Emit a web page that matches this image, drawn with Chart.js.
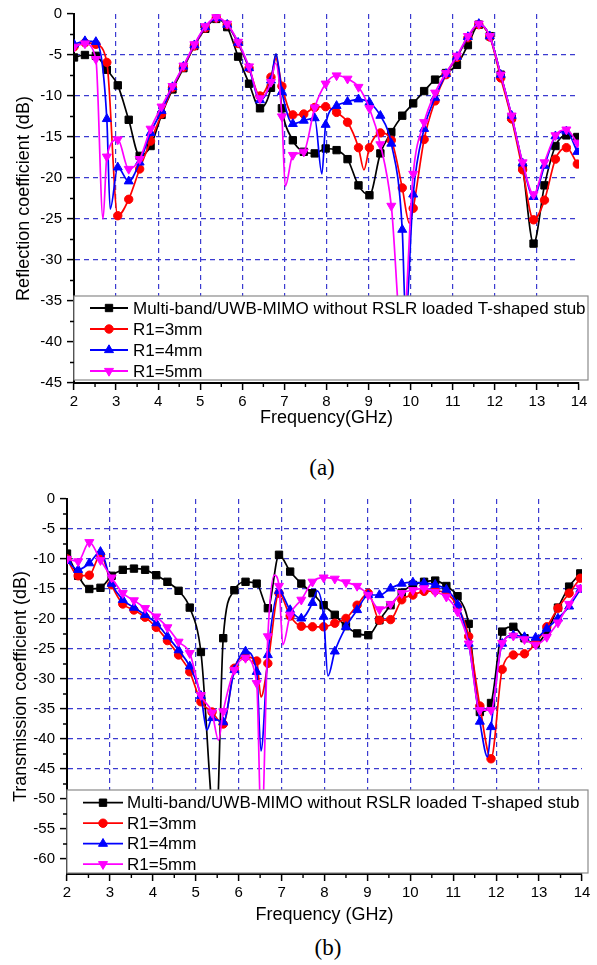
<!DOCTYPE html>
<html>
<head>
<meta charset="utf-8">
<script src="https://cdn.jsdelivr.net/npm/chart.js@4.4.1/dist/chart.umd.min.js"></script>
<style>
  html, body { margin: 0; padding: 0; background: #fff; }
  #wrap { position: relative; width: 597px; height: 965px; overflow: hidden; }
  canvas { position: absolute; left: 0; }
  #cA { top: 0; }
  #cB { top: 480px; }
  .cap { position: absolute; width: 100px; text-align: center; line-height: 1;
         font-family: "Liberation Serif", "Times New Roman", serif; font-size: 23px; color: #000; }
</style>
</head>
<body>
<div id="wrap">
  <canvas id="cA" width="597" height="440"></canvas>
  <div class="cap" style="left:272px; top:456px">(a)</div>
  <canvas id="cB" width="597" height="450"></canvas>
  <div class="cap" style="left:278px; top:936px">(b)</div>
</div>
<script>
const FONT = '"Liberation Sans", Arial, sans-serif';
const GRID = '#3b3bd0';

// marker positions (GHz), shared by every curve
const freq = [2.00, 2.26, 2.52, 2.78, 3.04, 3.30, 3.56, 3.82, 4.08, 4.34,
              4.60, 4.86, 5.12, 5.38, 5.64, 5.90, 6.16, 6.42, 6.68, 6.94,
              7.20, 7.46, 7.72, 7.98, 8.24, 8.50, 8.76, 9.02, 9.28, 9.54,
              9.80, 10.06, 10.32, 10.58, 10.84, 11.10, 11.36, 11.62, 11.88, 12.14,
              12.40, 12.66, 12.92, 13.18, 13.44, 13.70, 13.96];

const xTicks = [2, 3, 4, 5, 6, 7, 8, 9, 10, 11, 12, 13, 14];
const yTicksA = [0, -5, -10, -15, -20, -25, -30, -35, -40, -45];
const yTicksB = [0, -5, -10, -15, -20, -25, -30, -35, -40, -45, -50, -55, -60];

const seriesNames = ['Multi-band/UWB-MIMO without RSLR loaded T-shaped stub', 'R1=3mm', 'R1=4mm', 'R1=5mm'];

// (a) reflection coefficient, dB
const s11NoStub = [-5.3, -5.0, -5.1, -6.8, -8.7, -12.9, -17.3, -16.1, -12.3, -9.2,
                   -6.6, -3.9, -1.8, -0.6, -1.6, -5.2, -8.5, -11.5, -9.0, -11.5,
                   -15.4, -16.8, -17.0, -16.4, -16.6, -17.7, -20.9, -22.1, -17.0, -14.4,
                   -12.4, -10.9, -9.4, -8.0, -7.2, -6.2, -3.8, -1.3, -2.7, -7.4,
                   -12.6, -18.7, -28.0, -20.9, -16.1, -14.8, -15.0];
const s11R3 = [-4.0, -3.5, -3.7, -5.9, -24.6, -22.6, -18.9, -15.5, -12.2, -9.0,
               -6.5, -3.9, -1.7, -0.5, -1.3, -3.6, -6.6, -10.0, -7.7, -8.8,
               -12.3, -12.2, -11.4, -11.3, -12.0, -13.2, -16.3, -16.3, -14.5, -15.4,
               -21.2, -23.7, -15.3, -10.6, -7.4, -5.3, -2.9, -1.3, -2.8, -7.8,
               -12.8, -19.0, -25.1, -22.7, -17.7, -16.3, -18.3];
const s11R4 = [-3.7, -3.3, -3.4, -12.8, -18.7, -20.4, -18.1, -14.5, -11.8, -8.9,
               -6.4, -3.8, -1.6, -0.5, -1.3, -3.5, -6.6, -10.5, -8.1, -9.5,
               -13.4, -13.0, -12.7, -13.5, -11.2, -10.7, -10.4, -10.8, -12.4, -15.8,
               -26.3, -22.0, -14.0, -10.2, -7.3, -5.2, -2.8, -1.2, -2.7, -7.4,
               -12.4, -18.2, -22.3, -18.5, -14.9, -14.3, -16.8];
const s11R5 = [-4.0, -3.6, -5.5, -17.4, -15.3, -18.9, -17.7, -14.0, -11.3, -8.8,
               -6.3, -3.7, -1.5, -0.4, -1.2, -3.4, -6.4, -10.3, -8.3, -12.5,
               -17.2, -16.8, -11.4, -8.5, -7.5, -7.9, -8.9, -11.5, -15.9, -23.4,
               -40.0, -19.5, -13.2, -9.6, -7.2, -5.1, -2.7, -1.2, -2.7, -7.4,
               -12.4, -18.1, -22.0, -18.1, -14.8, -14.1, -15.7];
// sharp resonances that fall between markers: [GHz, dB]
const s11NoStubDips = [[6.80, -4.9]];
const s11R3Dips = [[6.80, -5.4], [8.89, -19.0], [9.97, -25.5]];
const s11R4Dips = [[2.86, -23.8], [6.80, -4.9], [7.89, -19.5], [9.88, -37.0]];
const s11R5Dips = [[2.69, -25.0], [6.79, -6.0], [7.02, -21.0]];

// (b) transmission coefficient, dB (null = marker not visible)
const s21NoStub = [-9.1, -12.8, -15.0, -14.8, -12.8, -11.8, -11.6, -11.8, -12.7, -13.8,
                   -15.3, -18.1, -25.5, null, -23.2, -15.2, -13.8, -14.1, -18.2, -9.3,
                   -12.1, -14.1, -15.7, -17.7, -19.3, -21.2, -22.4, -22.7, -20.2, -17.7,
                   -15.6, -14.3, -13.8, -13.6, -14.5, -16.2, -20.8, -35.5, -34.0, -22.1,
                   -21.3, -23.2, -24.1, -22.1, -18.1, -14.6, -12.4];
const s21R3 = [-10.0, -12.8, -12.7, -9.3, -14.3, -17.5, -18.5, -19.7, -21.4, -23.6,
               -26.0, -28.8, -33.8, -35.5, -37.5, -28.2, -26.3, -27.0, -27.4, -15.7,
               -19.5, -21.2, -21.3, -21.3, -20.7, -19.9, -17.7, -15.7, -20.2, -20.1,
               -16.8, -16.0, -15.4, -15.3, -15.7, -17.9, -22.9, -34.5, -43.3, -28.4,
               -26.0, -25.8, -24.0, -21.3, -18.2, -15.7, -13.2];
const s21R4 = [-10.3, -11.8, -10.7, -8.8, -14.1, -16.8, -18.1, -19.3, -20.7, -22.9,
               -25.2, -27.9, -32.8, -36.5, -37.2, -28.5, -25.4, -28.8, -26.0, -15.3,
               -18.5, -19.9, -17.3, -19.6, -25.4, -21.3, -18.5, -16.0, -16.0, -14.9,
               -14.1, -13.9, -14.0, -14.3, -15.1, -17.6, -24.1, -37.1, -38.0, -24.1,
               -22.7, -23.0, -23.1, -21.6, -19.9, -17.9, -15.1];
const s21R5 = [-10.0, -10.4, -7.2, -10.2, -13.1, -15.7, -16.9, -18.2, -19.6, -21.4,
               -23.8, -25.7, -32.7, -35.6, -35.4, -28.5, -26.5, -30.7, -22.9, -14.5,
               -19.3, -16.8, -13.8, -13.1, -13.3, -13.9, -14.5, -16.0, -18.4, -17.5,
               -15.7, -15.2, -14.9, -15.5, -16.3, -18.8, -24.1, -35.2, -35.2, -24.0,
               -22.8, -23.4, -24.3, -23.0, -20.6, -17.5, -14.8];
const s21NoStubDips = [[5.47, -56.0]];
const s21R3Dips = [[6.52, -33.0]];
const s21R4Dips = [[5.26, -38.5], [6.52, -42.0], [7.83, -15.3], [8.08, -29.5], [11.80, -43.0]];
const s21R5Dips = [[5.53, -40.2], [6.53, -56.0], [6.83, -12.7], [7.03, -24.3]];

const looks = [
  { color: '#000000', style: 'rect', r: 5.2, rot: 0 },
  { color: '#ff0000', style: 'circle', r: 4.2, rot: 0 },
  { color: '#0000ff', style: 'triangle', r: 5.2, rot: 0 },
  { color: '#ff00ff', style: 'triangle', r: 5.2, rot: 180 },
];

function toPoints(vals, dips) {
  const pts = [];
  freq.forEach((x, i) => { if (vals[i] !== null) pts.push({ x, y: vals[i] }); });
  dips.forEach(([x, y]) => pts.push({ x, y, dip: true }));
  return pts.sort((a, b) => a.x - b.x);
}

function makeDatasets(series) {
  return series.map(([vals, dips], i) => {
    const lk = looks[i];
    return {
      label: seriesNames[i],
      data: toPoints(vals, dips),
      borderColor: lk.color,
      backgroundColor: lk.color,
      borderWidth: 1.7,
      pointStyle: lk.style,
      pointRotation: lk.rot,
      pointRadius: c => (c.raw && c.raw.dip) ? 0 : lk.r,
      pointBorderWidth: 1,
      pointBackgroundColor: lk.color,
      pointBorderColor: lk.color,
      cubicInterpolationMode: 'monotone',
      order: 4 - i,
    };
  });
}

function marker(ctx, lk, x, y) {
  const r = lk.r;
  ctx.beginPath();
  if (lk.style === 'rect') {
    const s = r * Math.SQRT1_2;
    ctx.rect(x - s, y - s, 2 * s, 2 * s);
  } else if (lk.style === 'circle') {
    ctx.arc(x, y, r, 0, Math.PI * 2);
  } else {
    const d = lk.rot ? -1 : 1;
    ctx.moveTo(x, y - d * r);
    ctx.lineTo(x + r * 0.866, y + d * r * 0.5);
    ctx.lineTo(x - r * 0.866, y + d * r * 0.5);
    ctx.closePath();
  }
  ctx.fill();
  ctx.stroke();
}

// boxed legend sitting inside the bottom of the plot
function boxLegend(g) {
  return {
    id: 'boxLegend',
    afterDatasetsDraw(chart) {
      const { ctx, chartArea: a } = chart;
      const x0 = a.left, x1 = a.right + g.extendRight;
      const y0 = a.bottom - g.fromBottom, y1 = a.bottom - g.gapBottom;
      ctx.save();
      ctx.fillStyle = '#fff';
      ctx.fillRect(x0, y0, x1 - x0, y1 - y0);
      ctx.strokeStyle = '#8a8a8a';
      ctx.lineWidth = 1.2;
      ctx.strokeRect(x0, y0, x1 - x0, y1 - y0);
      ctx.font = g.fontSize + 'px ' + FONT;
      ctx.textBaseline = 'middle';
      seriesNames.forEach((name, i) => {
        const lk = looks[i];
        const yy = y0 + g.firstRow + i * g.rowGap;
        ctx.strokeStyle = lk.color;
        ctx.fillStyle = lk.color;
        ctx.lineWidth = 1.8;
        ctx.beginPath();
        ctx.moveTo(x0 + g.lineStart, yy);
        ctx.lineTo(x0 + g.lineEnd, yy);
        ctx.stroke();
        ctx.lineWidth = 1;
        marker(ctx, lk, x0 + (g.lineStart + g.lineEnd) / 2, yy);
        ctx.fillStyle = '#000';
        ctx.fillText(name, x0 + g.textStart, yy + 1);
      });
      ctx.restore();
    }
  };
}

function minorTicks(yTicks) {
  const mid = t => t.slice(1).map((v, i) => (v + t[i]) / 2);
  return {
    id: 'minorTicks',
    afterDraw(chart) {
      const { ctx } = chart;
      const xs = chart.scales.x, ys = chart.scales.y;
      ctx.save();
      ctx.strokeStyle = '#000';
      ctx.lineWidth = 1.4;
      ctx.beginPath();
      mid(xTicks).forEach(v => {
        const p = xs.getPixelForValue(v);
        ctx.moveTo(p, ys.bottom);
        ctx.lineTo(p, ys.bottom + 4);
      });
      mid(yTicks).forEach(v => {
        const p = ys.getPixelForValue(v);
        ctx.moveTo(xs.left, p);
        ctx.lineTo(xs.left - 4, p);
      });
      ctx.stroke();
      ctx.restore();
    }
  };
}

function build(id, c) {
  const yMin = c.yMin;
  new Chart(document.getElementById(id), {
    type: 'line',
    data: { datasets: makeDatasets(c.series) },
    options: {
      responsive: false,
      animation: false,
      events: [],
      layout: { padding: { top: c.padTop, right: c.padRight, left: 0, bottom: 0 } },
      plugins: { legend: { display: false }, tooltip: { enabled: false } },
      scales: {
        x: {
          type: 'linear', min: 2, max: 14,
          afterBuildTicks: s => { s.ticks = xTicks.map(v => ({ value: v })); },
          afterFit: s => { s.height = c.xAxisH; },
          grid: {
            color: t => (t.tick && (t.tick.value === 2 || t.tick.value === 14)) ? 'rgba(0,0,0,0)' : GRID,
            lineWidth: 1.2, tickLength: 7, tickColor: '#000', tickWidth: 1.5, tickBorderDash: [],
          },
          border: { color: '#000', width: 2, dash: [5, 4] },
          ticks: { color: '#000', font: { family: FONT, size: 15 }, padding: 3, maxRotation: 0, autoSkip: false },
          title: { display: true, text: c.xTitle, color: '#000', font: { family: FONT, size: 18 },
                   padding: { top: 0, bottom: c.xTitlePad } },
        },
        y: {
          type: 'linear', min: yMin, max: 0,
          afterBuildTicks: s => { s.ticks = c.yTicks.map(v => ({ value: v })); },
          afterFit: s => { s.width = c.yAxisW; },
          grid: {
            color: t => (t.tick && (t.tick.value === 0 || t.tick.value === yMin)) ? 'rgba(0,0,0,0)' : GRID,
            lineWidth: 1.2, tickLength: 7, tickColor: '#000', tickWidth: 1.5, tickBorderDash: [],
          },
          border: { color: '#000', width: 2, dash: [5, 4] },
          ticks: { color: '#000', font: { family: FONT, size: 15 }, padding: 5, autoSkip: false },
          title: { display: true, text: c.yTitle, color: '#000', font: { family: FONT, size: 18 },
                   padding: { top: c.yTitlePad, bottom: 0 } },
        },
      },
    },
    plugins: [boxLegend(c.legend), minorTicks(c.yTicks)],
  });
}

build('cA', {
  series: [[s11NoStub, s11NoStubDips], [s11R3, s11R3Dips], [s11R4, s11R4Dips], [s11R5, s11R5Dips]],
  yMin: -45, yTicks: yTicksA,
  padTop: 11, padRight: 18, xAxisH: 57, yAxisW: 74, xTitlePad: 11, yTitlePad: 13,
  xTitle: 'Frequency(GHz)', yTitle: 'Reflection coefficient (dB)',
  legend: { extendRight: 9, fromBottom: 87, gapBottom: 3, firstRow: 12, rowGap: 21,
            lineStart: 16, lineEnd: 54, textStart: 59, fontSize: 17 },
});

build('cB', {
  series: [[s21NoStub, s21NoStubDips], [s21R3, s21R3Dips], [s21R4, s21R4Dips], [s21R5, s21R5Dips]],
  yMin: -62.5, yTicks: yTicksB,
  padTop: 19, padRight: 15, xAxisH: 56, yAxisW: 67, xTitlePad: 4, yTitlePad: 10,
  xTitle: 'Frequency (GHz)', yTitle: 'Transmission coefficient (dB)',
  legend: { extendRight: 6, fromBottom: 84, gapBottom: 1, firstRow: 12.7, rowGap: 20.5,
            lineStart: 16, lineEnd: 56, textStart: 60, fontSize: 17 },
});
</script>
</body>
</html>
